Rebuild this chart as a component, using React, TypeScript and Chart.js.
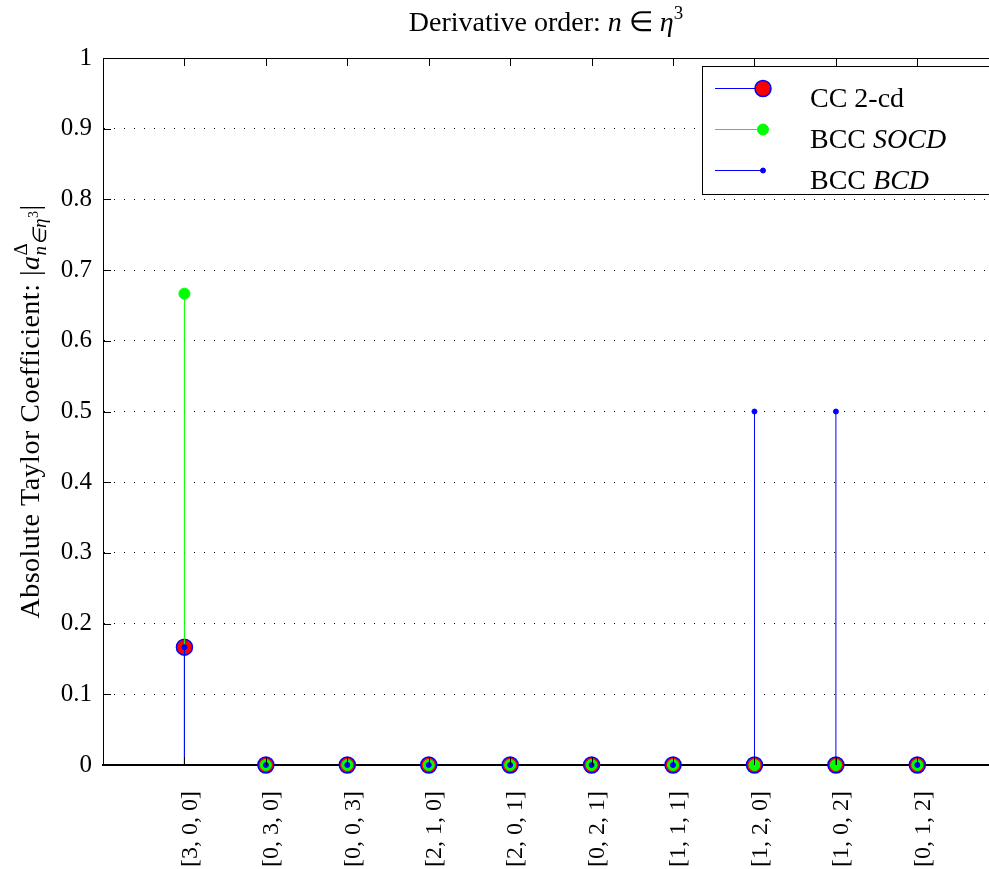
import React, { useEffect, useRef } from "react";
import { Chart, registerables } from "chart.js";

Chart.register(...registerables);

const categories = [
  "[3, 0, 0]",
  "[0, 3, 0]",
  "[0, 0, 3]",
  "[2, 1, 0]",
  "[2, 0, 1]",
  "[0, 2, 1]",
  "[1, 1, 1]",
  "[1, 2, 0]",
  "[1, 0, 2]",
  "[0, 1, 2]",
];
const cc2cd = [0.1667, 0, 0, 0, 0, 0, 0, 0, 0, 0];
const bccSOCD = [0.6667, 0, 0, 0, 0, 0, 0, 0, 0, 0];
const bccBCD = [0.1667, 0, 0, 0, 0, 0, 0, 0.5, 0.5, 0];
const yTicks = [0, 0.1, 0.2, 0.3, 0.4, 0.5, 0.6, 0.7, 0.8, 0.9, 1];
const legendRoman = ["CC 2-cd", "BCC ", "BCC "];
const legendItalic = ["", "SOCD", "BCD"];

const FAM = "'Liberation Serif', 'Times New Roman', serif";

function stemData(vals: number[]) {
  const pts: { x: number; y: number | null }[] = [];
  vals.forEach((v, i) => {
    pts.push({ x: i + 1, y: 0 });
    pts.push({ x: i + 1, y: v });
    pts.push({ x: i + 1, y: null });
  });
  return pts;
}

const markerSpecs = [
  { r: 8, fill: "#ff0000", stroke: "#0000ff", bw: 1.5, line: "#0000ff" },
  { r: 5.5, fill: "#00ff00", stroke: "#00ff00", bw: 1, line: "#00ff00" },
  { r: 2.5, fill: "#0000ff", stroke: "#0000ff", bw: 1, line: "#0000ff" },
];

function drawParts(
  ctx: CanvasRenderingContext2D,
  parts: { t: string; font: string; dy?: number; stack?: boolean }[],
  x: number,
  y: number,
  measureOnly = false
) {
  let cx = x;
  let stackW = 0;
  for (const p of parts) {
    ctx.font = p.font;
    const w = ctx.measureText(p.t).width;
    if (!measureOnly) ctx.fillText(p.t, cx, y + (p.dy || 0));
    if (p.stack) {
      stackW = Math.max(stackW, w);
    } else {
      cx += Math.max(w, stackW);
      stackW = 0;
    }
  }
  return cx - x;
}

const axesPlugin = {
  id: "matlabAxes",
  afterDraw(chart: any) {
    const { ctx, chartArea: ca, scales } = chart;
    ctx.save();
    ctx.strokeStyle = "#000";
    ctx.lineWidth = 1;
    // top frame
    ctx.beginPath();
    ctx.moveTo(ca.left, ca.top + 0.5);
    ctx.lineTo(ca.right, ca.top + 0.5);
    ctx.stroke();
    // y ticks (inward)
    ctx.beginPath();
    for (const v of yTicks) {
      const py = Math.round(scales.y.getPixelForValue(v)) + 0.5;
      ctx.moveTo(ca.left, py);
      ctx.lineTo(ca.left + 8, py);
    }
    // x ticks top & bottom
    for (let i = 0; i <= categories.length; i++) {
      const px = Math.round(scales.x.getPixelForValue(i)) + 0.5;
      ctx.moveTo(px, ca.top);
      ctx.lineTo(px, ca.top + 8);
      ctx.moveTo(px, ca.bottom);
      ctx.lineTo(px, ca.bottom - 8);
    }
    ctx.stroke();

    // title
    ctx.fillStyle = "#000";
    ctx.textBaseline = "alphabetic";
    ctx.textAlign = "left";
    const tParts = [
      { t: "Derivative order: ", font: `28px ${FAM}` },
      { t: "n", font: `italic 28px ${FAM}` },
      { t: " \u2208 ", font: `28px ${FAM}` },
      { t: "\u03b7", font: `italic 28px ${FAM}` },
      { t: "3", font: `19px ${FAM}`, dy: -12 },
    ];
    const tw = drawParts(ctx, tParts, 0, 0, true);
    drawParts(ctx, tParts, (ca.left + ca.right) / 2 - tw / 2, 31);

    // y title
    const yParts = [
      { t: "Absolute Taylor Coefficient: |", font: `28px ${FAM}` },
      { t: "a", font: `italic 28px ${FAM}` },
      { t: "\u0394", font: `19px ${FAM}`, dy: -12, stack: true },
      { t: "n\u2208\u03b7", font: `italic 19px ${FAM}`, dy: 7 },
      { t: "3", font: `14px ${FAM}`, dy: -1 },
      { t: "|", font: `28px ${FAM}` },
    ];
    const c2: any = ctx;
    c2.letterSpacing = "0.5px";
    const yw = drawParts(ctx, yParts, 0, 0, true);
    ctx.save();
    ctx.translate(39, (ca.top + ca.bottom) / 2);
    ctx.rotate(-Math.PI / 2);
    drawParts(ctx, yParts, -yw / 2, 0);
    ctx.restore();
    c2.letterSpacing = "0px";

    // legend
    const bl = ca.right - 287;
    const bt = 66;
    ctx.fillStyle = "#fff";
    ctx.fillRect(bl, bt, 300, 128);
    ctx.strokeStyle = "#000";
    ctx.lineWidth = 1;
    ctx.strokeRect(bl + 0.5, bt + 0.5, 300, 128);
    const rows = [88, 129, 170];
    rows.forEach((ry, i) => {
      const m = markerSpecs[i];
      ctx.strokeStyle = m.line;
      ctx.lineWidth = 1;
      ctx.beginPath();
      ctx.moveTo(bl + 13, ry + 0.5);
      ctx.lineTo(bl + 61, ry + 0.5);
      ctx.stroke();
      ctx.beginPath();
      ctx.arc(bl + 61, ry + 0.5, m.r, 0, Math.PI * 2);
      ctx.fillStyle = m.fill;
      ctx.fill();
      ctx.strokeStyle = m.stroke;
      ctx.lineWidth = m.bw;
      ctx.stroke();
      ctx.fillStyle = "#000";
      drawParts(
        ctx,
        [
          { t: legendRoman[i], font: `28px ${FAM}` },
          { t: legendItalic[i], font: `italic 28px ${FAM}` },
        ],
        bl + 108,
        ry + 19
      );
    });
    ctx.restore();
  },
};

export default function App() {
  const ref = useRef<HTMLCanvasElement | null>(null);
  useEffect(() => {
    if (!ref.current) return;
    const series = [cc2cd, bccSOCD, bccBCD];
    const chart = new Chart(ref.current, {
      type: "scatter",
      data: {
        datasets: series.map((vals, si) => {
          const m = markerSpecs[si];
          return {
            label: legendRoman[si] + legendItalic[si],
            data: stemData(vals),
            showLine: true,
            spanGaps: false,
            borderColor: m.line,
            borderWidth: 1,
            pointRadius: (c: any) => (c.dataIndex % 3 === 1 ? m.r : 0),
            pointHoverRadius: (c: any) => (c.dataIndex % 3 === 1 ? m.r : 0),
            pointBackgroundColor: m.fill,
            pointBorderColor: m.stroke,
            pointBorderWidth: m.bw,
            clip: false,
            order: 3 - si,
          } as any;
        }),
      },
      options: {
        animation: false,
        responsive: false,
        maintainAspectRatio: false,
        layout: { padding: { top: 58, left: 0, right: 0, bottom: 0 } },
        plugins: {
          legend: { display: false },
          tooltip: { enabled: false },
          title: { display: false },
        },
        scales: {
          x: {
            type: "linear",
            min: 0,
            max: 10.88,
            afterBuildTicks: (s: any) => {
              s.ticks = categories.map((_, i) => ({ value: i + 1 }));
            },
            afterFit: (s: any) => {
              s.height = 104;
            },
            ticks: {
              autoSkip: false,
              maxRotation: 90,
              minRotation: 90,
              padding: 26,
              labelOffset: 6,
              color: "#000",
              font: { family: FAM, size: 24 },
              callback: (v: any) => categories[Math.round(v) - 1] ?? "",
            },
            grid: { display: true, drawOnChartArea: false, drawTicks: false, tickLength: 0 },
            border: { display: true, color: "#000", width: 2 },
          },
          y: {
            type: "linear",
            min: 0,
            max: 1,
            afterBuildTicks: (s: any) => {
              s.ticks = yTicks.map((v) => ({ value: v }));
            },
            afterFit: (s: any) => {
              s.width = 103;
            },
            ticks: {
              padding: 11,
              color: "#000",
              font: { family: FAM, size: 25 },
              callback: (v: any) => String(v),
            },
            grid: { color: "#000", lineWidth: 1, drawTicks: false, tickLength: 0 },
            border: { display: true, color: "#000", width: 1, dash: [1, 9] },
          },
        },
      },
      plugins: [axesPlugin],
    });
    return () => chart.destroy();
  }, []);
  return (
    <div style={{ position: "absolute", left: 0, top: 0, width: 989, height: 869 }}>
      <canvas ref={ref} width={989} height={869} style={{ width: 989, height: 869, display: "block" }} />
    </div>
  );
}
